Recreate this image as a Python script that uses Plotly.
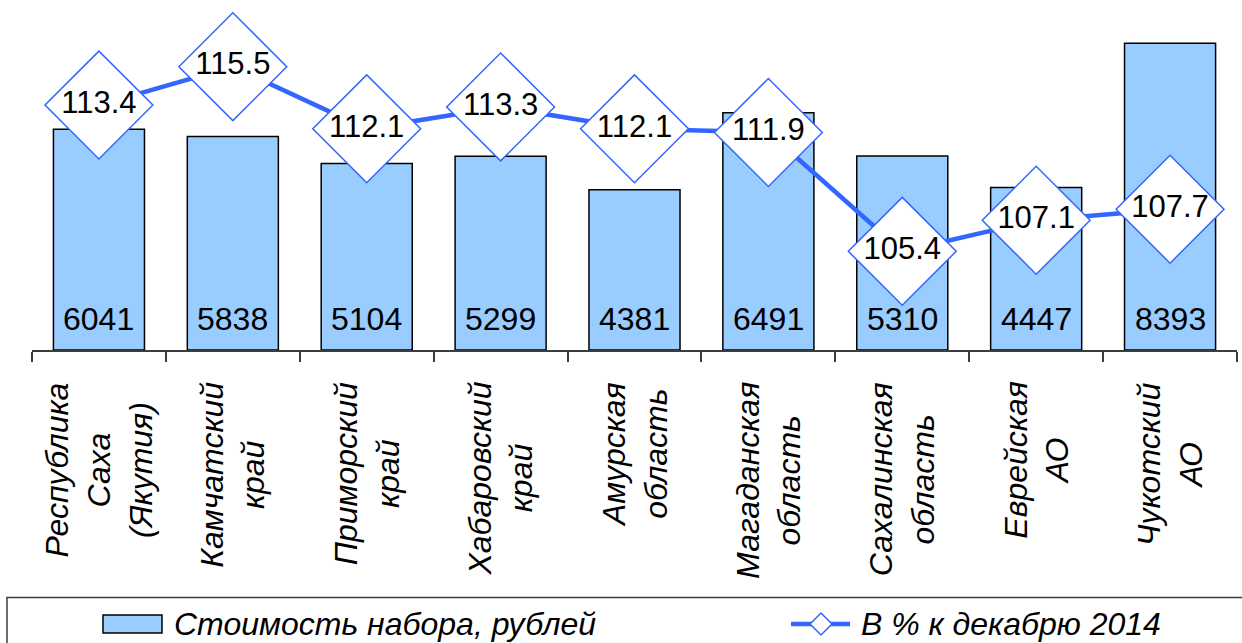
import plotly.graph_objects as go

# Регионы Дальневосточного федерального округа
regions = [
    "Республика<br>Саха<br>(Якутия)",
    "Камчатский<br>край",
    "Приморский<br>край",
    "Хабаровский<br>край",
    "Амурская<br>область",
    "Магаданская<br>область",
    "Сахалинская<br>область",
    "Еврейская<br>АО",
    "Чукотский<br>АО",
]
# Стоимость набора, рублей
cost = [6041, 5838, 5104, 5299, 4381, 6491, 5310, 4447, 8393]
# В % к декабрю 2014
pct = [113.4, 115.5, 112.1, 113.3, 112.1, 111.9, 105.4, 107.1, 107.7]

legend_names = ["Стоимость набора, рублей", "В % к декабрю 2014"]

FONT = "Liberation Sans, Arial, sans-serif"
BAR_FILL = "#99CCFF"
LINE_BLUE = "#3366FF"
AXIS_COLOR = "#3c3c3c"
FS = 32

W, H = 1242, 643
ML, MR, MT, MB = 32, 5, 21, 293
PW, PH = W - ML - MR, H - MT - MB


def fx(px):
    return (px - ML) / PW


def fy(py):
    return (H - MB - py) / PH


xs = list(range(len(regions)))

fig = go.Figure()

fig.add_trace(go.Bar(
    x=xs, y=cost, width=0.68,
    marker=dict(color=BAR_FILL, line=dict(color="black", width=1.5)),
    showlegend=False, hoverinfo="skip",
))

fig.add_trace(go.Scatter(
    x=xs, y=pct, yaxis="y2",
    mode="lines+markers+text",
    line=dict(color=LINE_BLUE, width=4.5),
    marker=dict(symbol="diamond", size=83, color="white",
                line=dict(color=LINE_BLUE, width=1.5)),
    text=[f"{v:.1f}" for v in pct],
    textposition="middle center",
    textfont=dict(family=FONT, size=31, color="black"),
    showlegend=False, hoverinfo="skip", cliponaxis=False,
))

annotations = []
# значения стоимости у основания столбцов
for i, v in enumerate(cost):
    annotations.append(dict(
        x=i, y=0, xref="x", yref="y", text=str(v), showarrow=False,
        yanchor="middle", yshift=31,
        font=dict(family=FONT, size=FS, color="black"),
    ))
# подписи категорий, повёрнутые на 90°
for i, name in enumerate(regions):
    annotations.append(dict(
        x=i, y=0, xref="x", yref="y", text=f"<i>{name}</i>", showarrow=False,
        textangle=-90, align="center", xanchor="center", yanchor="top",
        yshift=-30,
        font=dict(family=FONT, size=FS, color="black"),
    ))

# легенда
leg_y = 624
annotations.append(dict(
    x=fx(172), y=fy(leg_y), xref="paper", yref="paper",
    text=f"<i>{legend_names[0]}</i>", showarrow=False,
    xanchor="left", yanchor="middle",
    font=dict(family=FONT, size=FS, color="black"),
))
annotations.append(dict(
    x=fx(859), y=fy(leg_y), xref="paper", yref="paper",
    text=f"<i>{legend_names[1]}</i>", showarrow=False,
    xanchor="left", yanchor="middle",
    font=dict(family=FONT, size=FS, color="black"),
))

dcx, dr = 821, 11
shapes = [
    dict(type="rect", xref="paper", yref="paper",
         x0=fx(7), x1=fx(1260), y0=fy(597.5), y1=fy(680),
         line=dict(color=AXIS_COLOR, width=1.5), fillcolor="rgba(0,0,0,0)"),
    dict(type="rect", xref="paper", yref="paper",
         x0=fx(103), x1=fx(162), y0=fy(615), y1=fy(633),
         line=dict(color="black", width=1.5), fillcolor=BAR_FILL),
    dict(type="line", xref="paper", yref="paper",
         x0=fx(791), x1=fx(850), y0=fy(leg_y), y1=fy(leg_y),
         line=dict(color=LINE_BLUE, width=4.5)),
    dict(type="path", xref="paper", yref="paper",
         path=(f"M {fx(dcx - dr)},{fy(leg_y)} L {fx(dcx)},{fy(leg_y - dr)} "
               f"L {fx(dcx + dr)},{fy(leg_y)} L {fx(dcx)},{fy(leg_y + dr)} Z"),
         line=dict(color=LINE_BLUE, width=1.5), fillcolor="white"),
]

fig.update_layout(
    width=W, height=H,
    margin=dict(l=ML, r=MR, t=MT, b=MB, pad=0),
    paper_bgcolor="white", plot_bgcolor="white",
    font=dict(family=FONT, size=FS, color="black"),
    showlegend=False,
    xaxis=dict(
        type="linear", range=[-0.5, len(regions) - 0.5],
        tickmode="array", tickvals=[i - 0.5 for i in range(len(regions) + 1)],
        showticklabels=False, ticks="outside", ticklen=10, tickwidth=1.5,
        tickcolor=AXIS_COLOR, showline=True, linecolor=AXIS_COLOR,
        linewidth=1.5, showgrid=False, zeroline=False, fixedrange=True,
    ),
    yaxis=dict(range=[0, 9000], visible=False, fixedrange=True),
    yaxis2=dict(range=[100, 118], overlaying="y", side="right",
                visible=False, fixedrange=True),
    annotations=annotations,
    shapes=shapes,
)

fig.write_html("out.html", config={"displayModeBar": False})
